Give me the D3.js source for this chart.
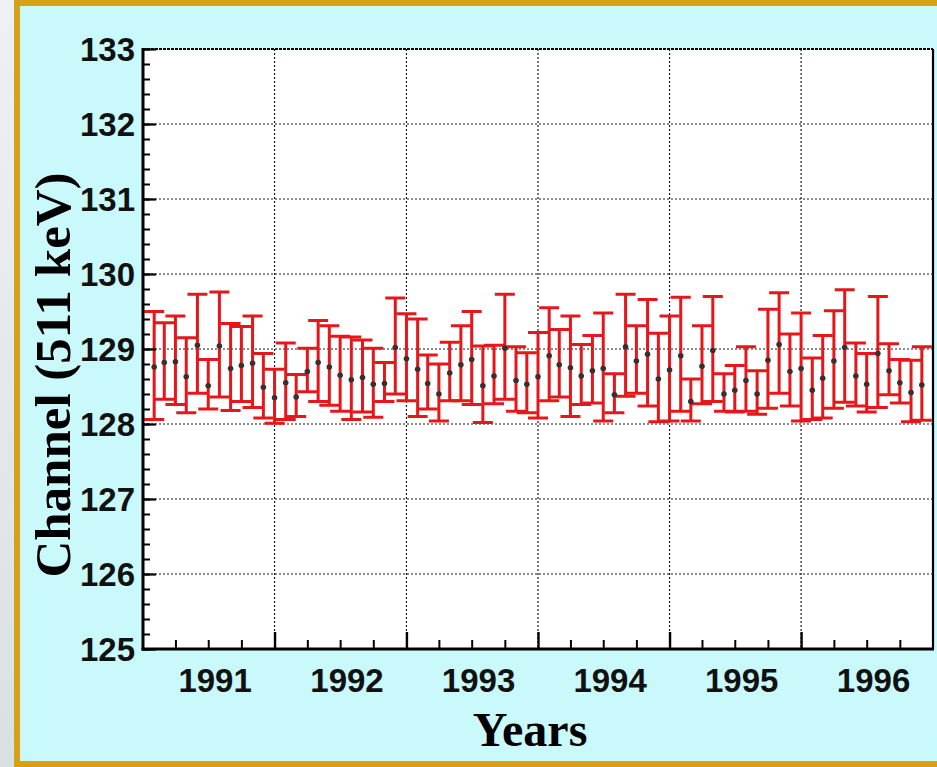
<!DOCTYPE html>
<html>
<head>
<meta charset="utf-8">
<script src="https://cdn.jsdelivr.net/npm/d3@7"></script>
<style>
  body { margin: 0; background: #e3e8eb; }
  svg { display: block; }
</style>
</head>
<body>
<svg id="chart" width="937" height="767"></svg>
<script>
// Monthly 511 keV peak position (channel) with its uncertainty, Jan 1991 - Nov 1996
const channelMean = [
  128.78, 128.84, 128.85, 128.65, 129.07, 128.53, 129.06, 128.76, 128.80, 128.83, 128.51, 128.37,
  128.57, 128.38, 128.72, 128.84, 128.78, 128.67, 128.61, 128.64, 128.55, 128.56, 129.04, 128.89,
  128.75, 128.56, 128.42, 128.70, 128.81, 128.88, 128.53, 128.66, 129.03, 128.60, 128.55, 128.65,
  128.93, 128.81, 128.77, 128.66, 128.73, 128.76, 128.41, 129.05, 128.86, 128.95, 128.62, 128.74,
  128.93, 128.32, 128.79, 129.00, 128.42, 128.47, 128.60, 128.42, 128.87, 129.08, 128.72, 128.76,
  128.47, 128.63, 128.86, 129.04, 128.66, 128.55, 128.96, 128.73, 128.57, 128.44, 128.54
];
const channelErr = [
  0.72, 0.51, 0.59, 0.50, 0.66, 0.33, 0.70, 0.58, 0.50, 0.61, 0.43, 0.36,
  0.51, 0.28, 0.29, 0.54, 0.53, 0.50, 0.55, 0.48, 0.46, 0.26, 0.64, 0.58,
  0.65, 0.36, 0.38, 0.39, 0.50, 0.62, 0.51, 0.39, 0.70, 0.43, 0.40, 0.57,
  0.62, 0.45, 0.67, 0.40, 0.45, 0.72, 0.26, 0.68, 0.45, 0.71, 0.59, 0.70,
  0.76, 0.28, 0.52, 0.70, 0.25, 0.31, 0.43, 0.29, 0.66, 0.67, 0.48, 0.72,
  0.41, 0.55, 0.65, 0.75, 0.42, 0.39, 0.74, 0.34, 0.29, 0.41, 0.49
];
const yearLabels = ["1991", "1992", "1993", "1994", "1995", "1996"];
const yTickValues = [125, 126, 127, 128, 129, 130, 131, 132, 133];
const yAxisTitle = "Channel (511 keV)";
const xAxisTitle = "Years";

// each monthly value is plotted at the end of its month
const monthEnds = d3.timeMonth.range(new Date(1991, 1, 1), new Date(1997, 0, 1));
const points = channelMean.map((m, i) => ({ date: monthEnds[i], mean: m, err: channelErr[i] }));

const svg = d3.select("#chart");
const W = 937, H = 767;
const plot = { left: 143, right: 933, top: 49, bottom: 649 };

const x = d3.scaleTime()
  .domain([new Date(1991, 0, 1), new Date(1997, 0, 1)])
  .range([plot.left, plot.right]);
const y = d3.scaleLinear().domain([125, 133]).range([plot.bottom, plot.top]);

// panel background and its golden frame
const defs = svg.append("defs");
const strip = defs.append("linearGradient").attr("id", "strip").attr("x1", 0).attr("x2", 0).attr("y1", 0).attr("y2", 1);
strip.append("stop").attr("offset", 0).attr("stop-color", "#eef1f3");
strip.append("stop").attr("offset", 1).attr("stop-color", "#d9e0e4");
svg.append("rect").attr("x", 0).attr("y", 0).attr("width", W).attr("height", H).attr("fill", "url(#strip)");
svg.append("rect")
  .attr("x", 17).attr("y", 3).attr("width", W + 20).attr("height", 761)
  .attr("fill", "#c9f9fb").attr("stroke", "#d7a117").attr("stroke-width", 6);

// plot area
svg.append("rect")
  .attr("x", plot.left).attr("y", plot.top)
  .attr("width", plot.right - plot.left).attr("height", plot.bottom - plot.top)
  .attr("fill", "#ffffff");

// dotted grid
const yearStarts = d3.timeYear.range(new Date(1992, 0, 1), new Date(1997, 0, 1));
const grid = svg.append("g").attr("stroke", "#1a1a1a").attr("stroke-width", 1.2).attr("stroke-dasharray", "2,2");
grid.selectAll("line.h").data(yTickValues.filter(v => v > 125 && v < 133)).join("line")
  .attr("x1", plot.left).attr("x2", plot.right)
  .attr("y1", d => y(d)).attr("y2", d => y(d));
grid.selectAll("line.v").data(yearStarts).join("line")
  .attr("y1", plot.top).attr("y2", plot.bottom)
  .attr("x1", d => x(d)).attr("x2", d => x(d));

// error bars
const red = "#e5171a";
const capHalf = 10;
const bars = svg.append("g").attr("stroke", red).attr("stroke-width", 3).attr("fill", "none");
const barG = bars.selectAll("g").data(points).join("g");
barG.append("line")
  .attr("x1", d => x(d.date)).attr("x2", d => x(d.date))
  .attr("y1", d => y(d.mean + d.err)).attr("y2", d => y(d.mean - d.err));
barG.append("line")
  .attr("x1", d => x(d.date) - capHalf).attr("x2", d => x(d.date) + capHalf)
  .attr("y1", d => y(d.mean + d.err)).attr("y2", d => y(d.mean + d.err));
barG.append("line")
  .attr("x1", d => x(d.date) - capHalf).attr("x2", d => x(d.date) + capHalf)
  .attr("y1", d => y(d.mean - d.err)).attr("y2", d => y(d.mean - d.err));

// mean markers
svg.append("g").selectAll("circle").data(points).join("circle")
  .attr("cx", d => x(d.date)).attr("cy", d => y(d.mean) + 1.5)
  .attr("r", 2.8).attr("fill", "#3b2e2e");

// y axis: major and minor ticks pointing into the plot
const tickFont = "'Liberation Sans', Arial, sans-serif";
const yMinor = d3.range(125, 133.001, 0.2).map(v => +v.toFixed(1));
svg.append("g").attr("transform", `translate(${plot.left},0)`)
  .call(d3.axisLeft(y).tickValues(yMinor).tickSizeInner(-7).tickSizeOuter(0).tickFormat(""))
  .call(g => g.select(".domain").remove())
  .call(g => g.selectAll("line").attr("stroke", "#000").attr("stroke-width", 2));
svg.append("g").attr("transform", `translate(${plot.left},0)`)
  .call(d3.axisLeft(y).tickValues(yTickValues).tickSizeInner(-13).tickSizeOuter(0).tickPadding(8).tickFormat(d3.format("d")))
  .call(g => g.select(".domain").remove())
  .call(g => g.selectAll("line").attr("stroke", "#000").attr("stroke-width", 2.2))
  .call(g => g.selectAll("text")
    .attr("fill", "#111").attr("font-family", tickFont)
    .attr("font-weight", "bold").attr("font-size", 33).attr("dy", "0.36em"));

// x axis: quarterly minor ticks, yearly major ticks, year labels mid-year
const quarters = d3.timeMonth.every(3).range(new Date(1991, 0, 1), new Date(1997, 0, 1))
  .filter(d => d.getMonth() !== 0);
svg.append("g").attr("transform", `translate(0,${plot.bottom})`)
  .call(d3.axisBottom(x).tickValues(quarters).tickSizeInner(-9).tickSizeOuter(0).tickFormat(""))
  .call(g => g.select(".domain").remove())
  .call(g => g.selectAll("line").attr("stroke", "#000").attr("stroke-width", 2));
svg.append("g").attr("transform", `translate(0,${plot.bottom})`)
  .call(d3.axisBottom(x).tickValues(yearStarts).tickSizeInner(-17).tickSizeOuter(0).tickFormat(""))
  .call(g => g.select(".domain").remove())
  .call(g => g.selectAll("line").attr("stroke", "#000").attr("stroke-width", 2.4));
const midYears = yearLabels.map(s => new Date(+s, 6, 2));
svg.append("g").attr("transform", `translate(6,${plot.bottom})`)
  .call(d3.axisBottom(x).tickValues(midYears).tickSize(0).tickPadding(20)
    .tickFormat((d, i) => yearLabels[i]))
  .call(g => g.select(".domain").remove())
  .call(g => g.selectAll("text")
    .attr("fill", "#111").attr("font-family", tickFont)
    .attr("font-weight", "bold").attr("font-size", 33));

// plot frame
const frame = svg.append("g").attr("stroke", "#000").attr("fill", "none");
frame.append("line").attr("x1", plot.left).attr("x2", plot.left).attr("y1", plot.top - 1).attr("y2", plot.bottom + 1.5).attr("stroke-width", 3);
frame.append("line").attr("x1", plot.left - 1.5).attr("x2", plot.right + 1).attr("y1", plot.bottom).attr("y2", plot.bottom).attr("stroke-width", 3);
frame.append("line").attr("x1", plot.right).attr("x2", plot.right).attr("y1", plot.top).attr("y2", plot.bottom).attr("stroke-width", 2.2);
frame.append("line").attr("x1", plot.left).attr("x2", plot.right).attr("y1", plot.top).attr("y2", plot.top)
  .attr("stroke-width", 2).attr("stroke-dasharray", "3,1");

// axis titles
const titleFont = "'Liberation Serif', 'Times New Roman', serif";
svg.append("text")
  .attr("transform", `translate(70,${(plot.top + plot.bottom) / 2 + 26}) rotate(-90)`)
  .attr("text-anchor", "middle").attr("font-family", titleFont)
  .attr("font-weight", "bold").attr("font-size", 51).attr("fill", "#000")
  .text(yAxisTitle);
svg.append("text")
  .attr("x", 530).attr("y", 746)
  .attr("text-anchor", "middle").attr("font-family", titleFont)
  .attr("font-weight", "bold").attr("font-size", 48).attr("fill", "#000")
  .text(xAxisTitle);
</script>
</body>
</html>
